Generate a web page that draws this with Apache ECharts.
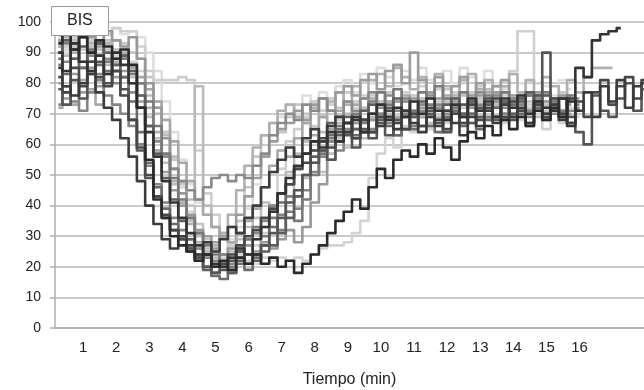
<!DOCTYPE html>
<html>
<head>
<meta charset="utf-8">
<script src="https://cdn.jsdelivr.net/npm/echarts@6/dist/echarts.min.js"></script>
<style>
  html, body { margin: 0; padding: 0; background: #fff; }
  #bisChart { width: 644px; height: 390px; }
</style>
</head>
<body>
<div id="bisChart"></div>
<script>
// time grid (min), one reading every 15 s
const minutes = [];
for (let i = 1; i <= 72; i++) minutes.push(i * 0.25);

const xTickLabels = [1, 2, 3, 4, 5, 6, 7, 8, 9, 10, 11, 12, 13, 14, 15, 16];
const yTickLabels = [0, 10, 20, 30, 40, 50, 60, 70, 80, 90, 100];

// BIS per patient
const bis01 = [93,96,91,95, 90,94,92,88, 91,86,72,55, 42,36,30,27, 25,22,24,20, 22,19,23,21, 24,21,23,20, 22,18,21,24, 27,31,35,38, 42,39,46,52, 49,55,58,56, 60,57,62,59, 55,61,64,62, 66,63,68,65, 69,66,71,68, 72,69,74,71];
const bis02 = [85,79,76,80, 83,77,72,68, 62,56,48,40, 34,29,26,30, 27,24,28,25, 29,33,31,36, 40,46,51,55, 59,56,62,65, 61,66,69,64, 68,64,70,66, 69,65,71,67, 64,69,66,71, 67,63,69,66, 71,67,73,69, 72,67,74,70, 73,68,75,71, 77,69,79,74, 81,72,79,80];
const bis03 = [90,84,93,87, 84,89,83,90, 86,80,72,64, 56,48,41,36, 31,27,24,21, 20,23,26,24, 29,33,38,44, 49,53,57,61, 59,64,61,67, 69,64,70,73, 68,72,69,74, 70,75,71,68, 73,69,75,71, 74,69,75,72, 76,70,74,72, 71,75,66,85, 82,94,96,97, 98];
const bis04 = [78,73,81,75, 83,87,80,84, 78,68,58,49, 43,36,32,29, 26,23,20,18, 19,22,25,21, 24,27,31,36, 41,45,50,54, 58,55,61,63, 59,65,62,67, 63,68,65,70, 66,71,67,64, 70,73,67,72, 75,69,73,68, 74,70,76,90, 71,75,69,64, 60,76,71,69, 75,80,71,78];
const bis05 = [95,97,93,96, 94,97,96,98, 97,97,92,84, 81,81,81,82, 81,58,44,37, 31,27,26,24, 27,31,40,52, 61,65,69,66, 71,73,68,74, 72,76,73,77, 74,71,77,74, 79,75,78,73, 77,80,76,79, 75,79,76,84, 97,97,80,65, 71,67,73];
const bis06 = [92,89,94,87, 84,91,86,90, 88,85,80,76, 70,63,56,48, 42,79,40,33, 30,28,31,27, 29,33,38,44, 51,57,61,58, 64,61,67,70, 67,72,69,74, 71,68,74,70, 75,71,69,74, 71,76,72,75, 78,73,77,72, 75,71,74,70, 73,76,71];
const bis07 = [90,87,93,85, 89,83,88,80, 82,77,72,66, 61,56,52,48, 45,42,46,49, 50,48,50,49, 53,57,63,67, 70,68,73,71, 75,71,69,74, 71,75,77,72, 76,71,74,69, 73,76,72,70, 75,70,73,77, 71,76,72,69, 75,71,76,72, 70,75,71,75];
const bis08 = [94,91,96,92, 95,97,93,89, 91,87,84,78, 72,64,55,46, 38,32,28,25, 23,22,24,22, 21,23,22,23, 22,23,22,24, 26,27,27,28, 31,35,49,57, 62,59,66,64, 69,65,71,67, 70,66,72,68, 73,69,67,72, 68,73,70,74, 71,75,72,69];
const bis09 = [80,75,83,77, 85,79,87,82, 84,80,74,66, 58,51,45,40, 36,32,30,28, 30,33,37,43, 49,56,61,65, 67,71,68,73, 75,71,77,79, 76,81,83,78, 84,86,80,90, 81,77,82,75, 79,82,76,80, 75,79,81,76, 73,77,72,76, 71,75,70];
const bis10 = [92,95,90,96, 93,89,93,87, 90,86,80,72, 64,56,48,41, 34,28,25,27, 31,37,45,53, 59,63,67,71, 73,69,67,72, 69,74,77,73, 79,75,81,83, 79,85,82,78, 82,77,83,79, 76,81,83,78, 81,76,79,83, 77,81,76,82, 79,75,81,77, 82,85,85,85];
const bis11 = [88,83,91,85, 91,86,84,88, 82,74,64,54, 46,39,34,30, 26,23,20,17, 16,18,21,19, 23,27,33,41, 47,52,57,61, 58,63,65,67, 63,68,64,69, 66,63,69,65, 70,66,64,69, 71,66,70,65, 68,72,68,73, 70,66,72,68, 73,69,67,71];
const bis12 = [96,92,95,91, 94,96,91,94, 93,90,88,82, 74,64,55,47, 40,34,29,25, 24,27,35,46, 56,63,67,64, 69,73,70,74, 71,75,72,77, 74,71,76,73, 77,74,71,76, 73,77,74,78, 75,72,77,74, 78,75,79,73, 76,72,75,71, 74,77,73];
const bis13 = [86,93,88,95, 90,93,87,84, 88,83,80,74, 66,57,49,42, 36,31,27,24, 21,20,25,29, 33,30,36,32, 38,35,42,50, 57,62,66,64, 70,67,74,77, 73,78,75,71, 77,73,79,75, 72,77,74,71, 76,72,77,74, 71,76,73,77, 74,71,76,73];
const bis14 = [94,96,91,97, 95,92,97,94, 92,95,88,80, 72,62,52,44, 37,31,28,26, 24,26,23,27, 25,28,26,29, 32,28,33,41, 47,55,61,64, 67,71,68,73, 69,74,70,75, 72,69,75,71, 74,69,72,76, 73,77,74,70, 75,71,77,74, 71,76,73];
const bis15 = [93,90,95,92, 97,94,96,98, 96,97,95,90, 84,74,64,55, 47,41,37,33, 31,29,33,39, 47,56,63,69, 73,70,76,72, 77,73,79,81, 77,83,80,85, 82,79,84,81, 85,81,79,84, 80,85,82,79, 84,80,78,83, 80,77,75,79, 76,81,78];
const bis16 = [82,77,85,79, 87,82,79,84, 76,68,59,50, 43,37,32,29, 25,22,24,20, 21,24,27,30, 32,36,39,44, 47,52,54,58, 62,59,64,67, 62,68,64,69, 71,67,65,70, 66,72,68,65, 70,67,73,68, 72,75,69,74, 71,67,73,69, 75,70,67,74, 69,77,81,73, 79,82,75,81];
const bis17 = [90,94,88,92, 87,93,90,86, 89,84,76,66, 57,49,42,35, 29,24,19,18, 20,18,22,24, 22,25,27,31, 36,43,50,56, 61,67,63,69, 65,71,73,68, 72,75,71,69, 74,70,68,73, 75,70,74,69, 73,68,74,70, 75,77,71,76, 72,70,75];
const bis18 = [72,77,73,81, 78,73,83,86, 89,85,82,78, 74,68,61,54, 48,42,37,33, 30,28,31,35, 39,46,53,58, 56,62,67,63, 69,65,71,67, 73,68,75,70, 74,69,76,71, 69,75,71,76, 72,70,75,71, 77,72,70,75, 71,76,72,70, 75,71,76];
const bis19 = [94,97,92,96, 92,96,94,91, 88,82,76,69, 62,54,47,41, 35,30,26,23, 22,25,29,33, 36,41,38,44, 47,43,49,54, 51,57,62,59, 65,62,68,66, 70,67,69,74, 69,67,72,68, 73,69,67,72, 68,73,70,74, 70,74,69,73, 75,70,74];
const bis20 = [73,79,74,71, 77,81,76,73, 70,66,60,53, 47,41,36,32, 29,26,23,22, 24,21,26,29, 31,35,40,37, 43,39,45,51, 56,61,58,65, 62,68,65,70, 67,63,70,66, 71,66,73,68, 72,67,70,73, 69,74,70,75, 73,69,75,70, 74,70,67,72];

// drawing order and grey tone of each trace
const traces = [
  [bis15, '#dedede'], [bis08, '#d4d4d4'], [bis12, '#c6c6c6'], [bis05, '#cfcfcf'],
  [bis19, '#bebebe'], [bis06, '#bababa'], [bis10, '#b0b0b0'], [bis18, '#a8a8a8'],
  [bis09, '#9c9c9c'], [bis14, '#989898'], [bis07, '#8a8a8a'], [bis20, '#858585'],
  [bis13, '#7a7a7a'], [bis11, '#6c6c6c'], [bis17, '#5e5e5e'], [bis04, '#555555'],
  [bis16, '#484848'], [bis02, '#3c3c3c'], [bis03, '#333333'], [bis01, '#2a2a2a']
];

const chart = echarts.init(document.getElementById('bisChart'), null, { renderer: 'canvas' });

const series = traces.map(([values, color]) => ({
  type: 'line',
  data: values.map((v, i) => [minutes[i], v]),
  step: 'middle',
  symbol: 'none',
  lineStyle: { color: color, width: 2.6, join: 'round' },
  silent: true
}));

const option = {
  animation: false,
  textStyle: { fontFamily: 'Liberation Sans, Arial, sans-serif' },
  title: {
    text: 'BIS',
    left: 51,
    top: 6,
    padding: [7, 16],
    backgroundColor: '#fff',
    borderColor: '#9a9a9a',
    borderWidth: 1,
    textStyle: {
      fontSize: 16,
      fontWeight: 'normal',
      color: '#222',
      fontFamily: 'Liberation Sans, Arial, sans-serif'
    }
  },
  grid: {
    left: 55,
    right: 0,
    top: 22,
    bottom: 62,
    outerBoundsMode: 'none'
  },
  xAxis: {
    type: 'value',
    min: 0.15,
    max: 17.95,
    name: 'Tiempo (min)',
    nameLocation: 'middle',
    nameGap: 44,
    nameTextStyle: { fontSize: 16, color: '#222' },
    axisLine: { show: true, lineStyle: { color: '#b0b0b0', width: 1.5 } },
    axisTick: { show: false },
    splitLine: { show: false },
    axisLabel: {
      customValues: xTickLabels,
      fontSize: 15,
      color: '#222',
      margin: 12
    }
  },
  yAxis: {
    type: 'value',
    min: 0,
    max: 100,
    interval: 10,
    axisLine: { show: true, lineStyle: { color: '#b0b0b0', width: 1.5 } },
    axisTick: { show: true, length: 5, lineStyle: { color: '#b0b0b0', width: 1.5 } },
    splitLine: { show: true, lineStyle: { color: '#b8b8b8', width: 1.5 } },
    axisLabel: {
      fontSize: 14,
      color: '#222',
      margin: 14,
      formatter: (v) => (yTickLabels.includes(v) ? String(v) : '')
    }
  },
  series: series
};

chart.setOption(option);
</script>
</body>
</html>
